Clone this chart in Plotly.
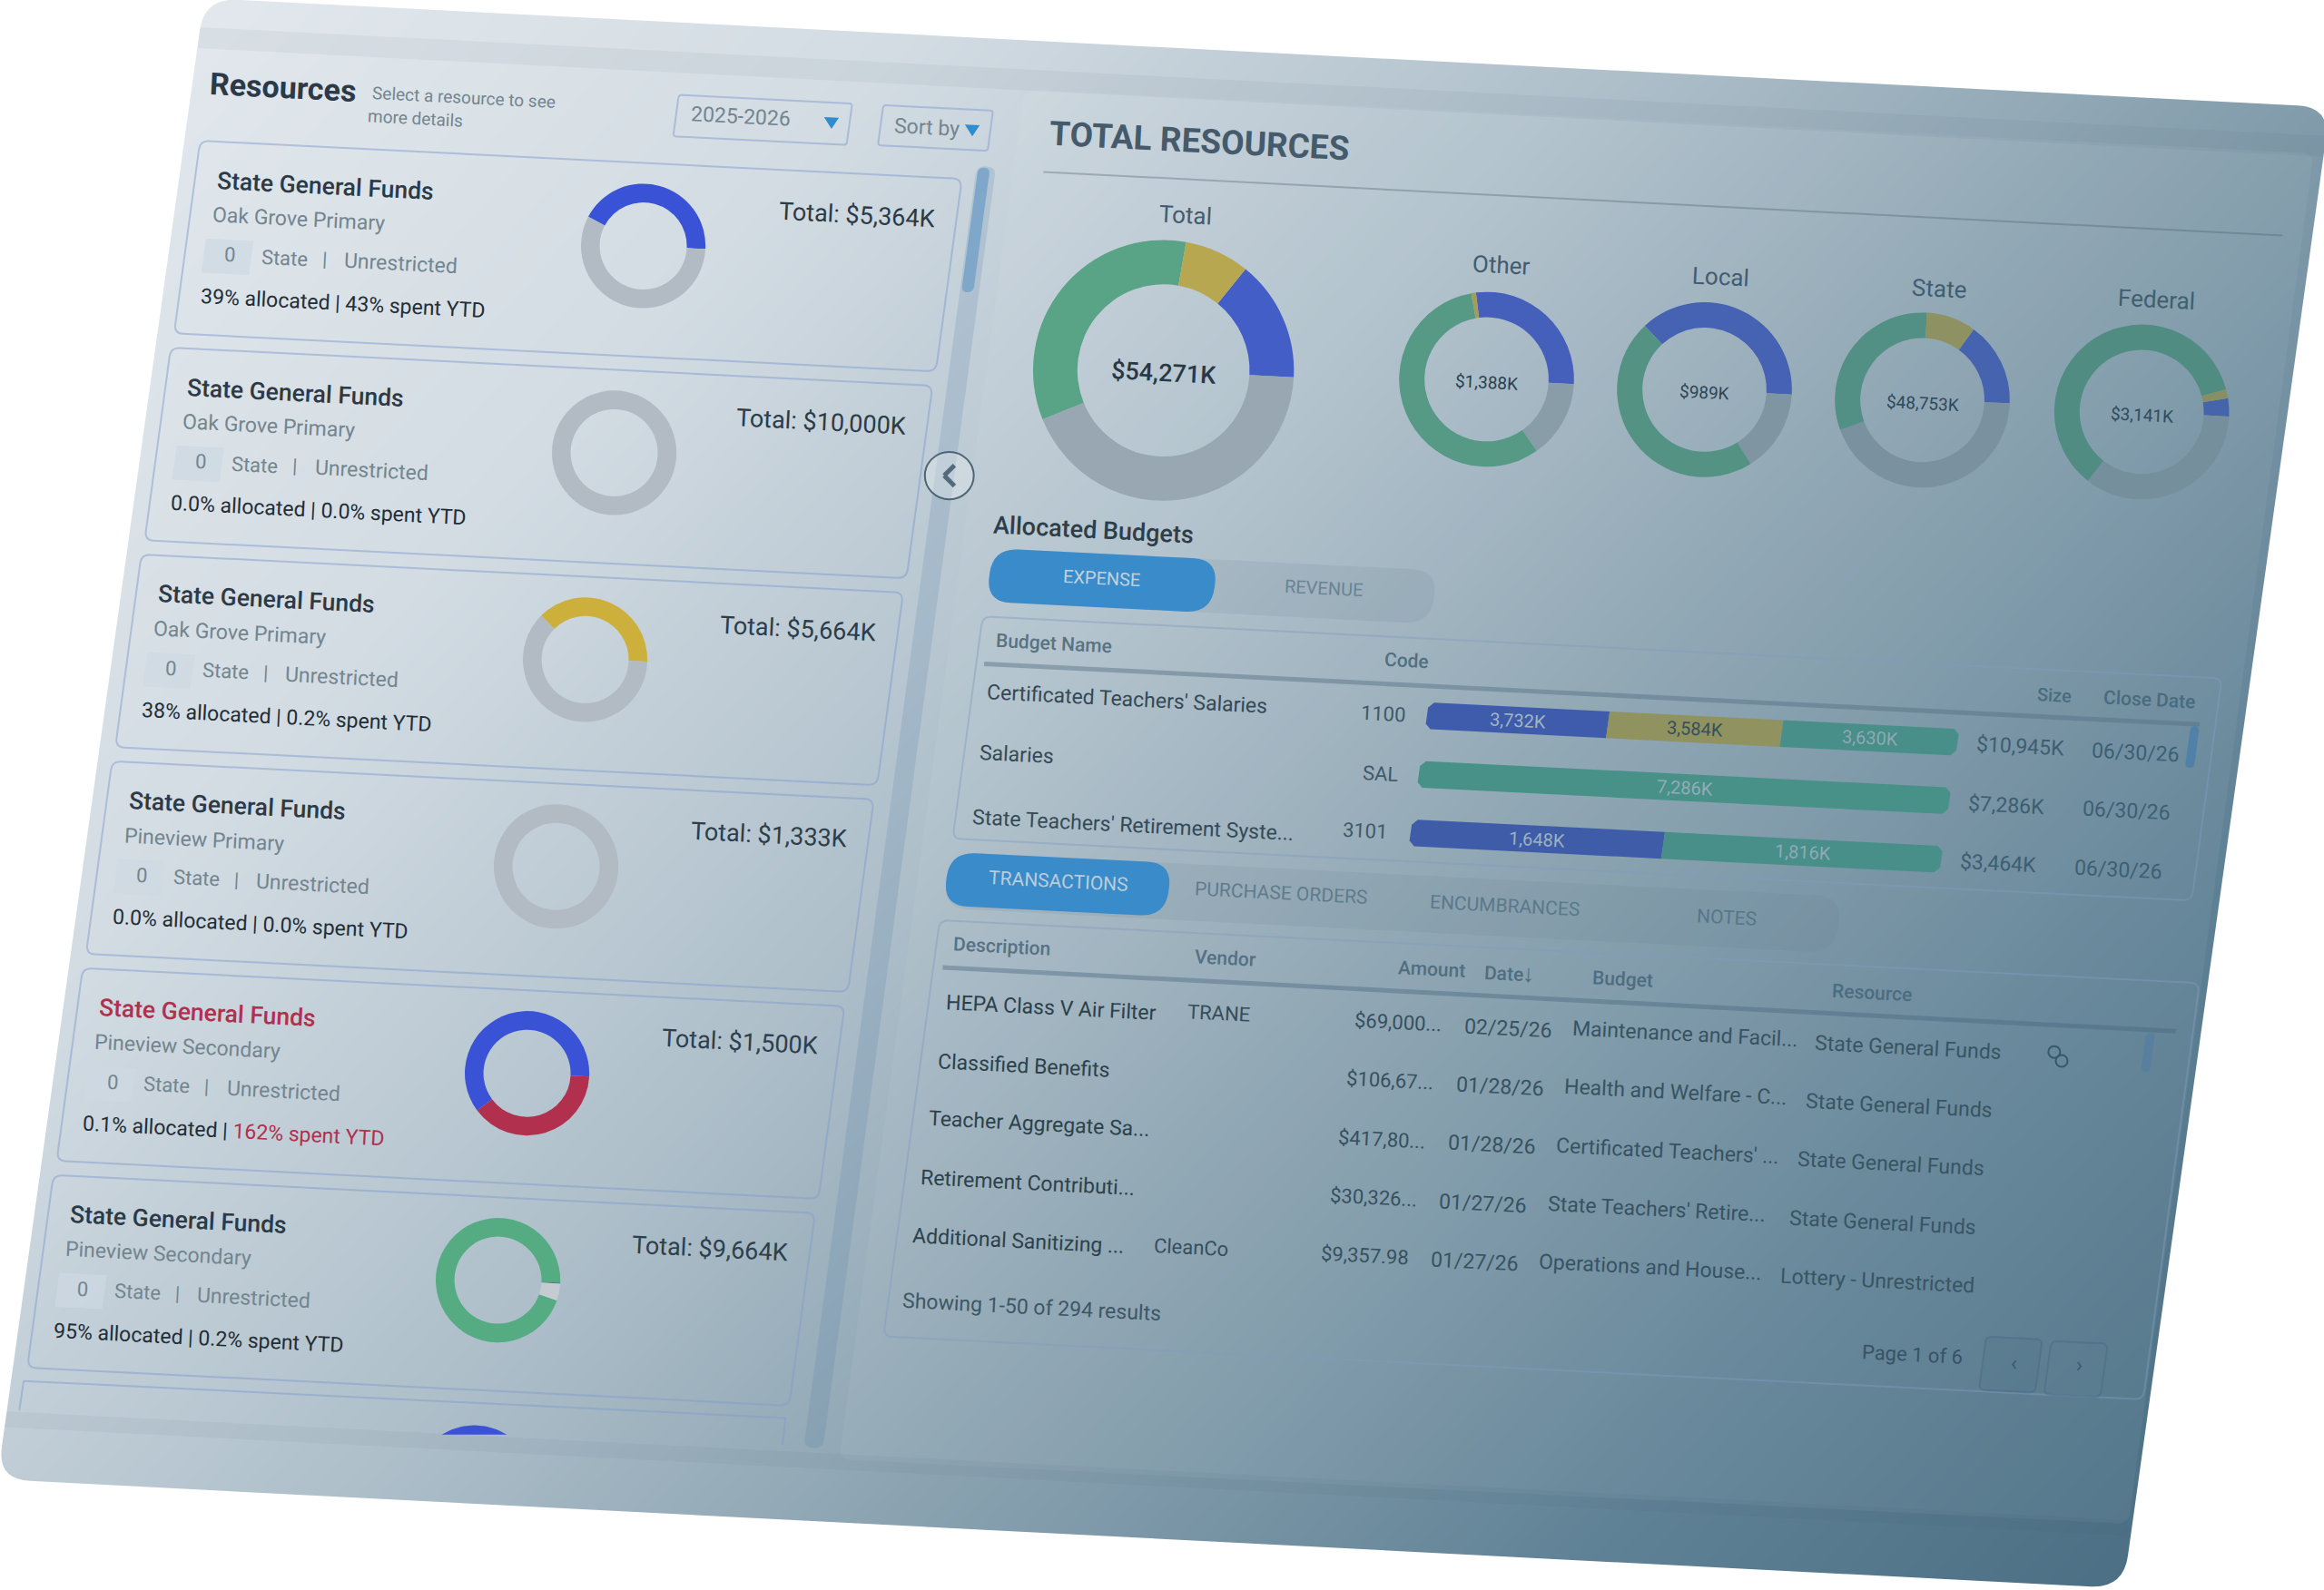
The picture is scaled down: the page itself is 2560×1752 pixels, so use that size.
import numpy as np
import plotly.graph_objects as go

S = 2560 / 1568  # positions below were read on a 1568 wide view of the picture
W, H = 2560, 1752
ANGLE = 2.9

BLUE = "#3a53d6"
GREY = "#b2bbc3"
PALE = "#c4cbd1"
GOLD = "#cdb03c"
RED = "#b0304e"
GREEN = "#55ab82"
DARK = "#2b3a46"
MID = "#73858f"
HEAD = "#5d7585"

# resource cards
card_titles = ["State General Funds"] * 6
card_schools = ["Oak Grove Primary", "Oak Grove Primary", "Oak Grove Primary",
                "Pineview Primary", "Pineview Secondary", "Pineview Secondary"]
card_allocated = ["39%", "0.0%", "38%", "0.0%", "0.1%", "95%"]
card_spent = ["43%", "0.0%", "0.2%", "0.0%", "162%", "0.2%"]
card_totals = ["$5,364K", "$10,000K", "$5,664K", "$1,333K", "$1,500K", "$9,664K"]
card_values = [[43, 57], [100], [38, 62], [100], [39, 61], [95.4, 0.2, 4.4]]
card_colors = [[BLUE, GREY], [GREY], [GOLD, GREY], [GREY], [RED, BLUE], [GREEN, BLUE, PALE]]
card_rotation = [-62, 0, -45, 0, 93, 109]

# total resources donuts
donut_names = ["Total", "Other", "Local", "State", "Federal"]
donut_labels = ["$54,271K", "$1,388K", "$989K", "$48,753K", "$3,141K"]
donut_blue = [8141, 386, 374, 7584, 105]
donut_grey = [23367, 200, 151, 21396, 1091]
donut_green = [18391, 790, 464, 15304, 1893]
donut_gold = [4372, 12, 0, 4469, 52]
donut_rotation = [39, -7, -43, 36, 81]

# allocated budgets
budget_names = ["Certificated Teachers' Salaries", "Salaries", "State Teachers' Retirement Syste..."]
budget_codes = ["1100", "SAL", "3101"]
budget_blue = [3732, 0, 1648]
budget_gold = [3584, 0, 0]
budget_green = [3630, 7286, 1816]
budget_sizes = ["$10,945K", "$7,286K", "$3,464K"]
budget_close = ["06/30/26", "06/30/26", "06/30/26"]

# transactions
tx_desc = ["HEPA Class V Air Filter", "Classified Benefits", "Teacher Aggregate Sa...",
           "Retirement Contributi...", "Additional Sanitizing ..."]
tx_vendor = ["TRANE", "", "", "", "CleanCo"]
tx_amount = ["$69,000...", "$106,67...", "$417,80...", "$30,326...", "$9,357.98"]
tx_date = ["02/25/26", "01/28/26", "01/28/26", "01/27/26", "01/27/26"]
tx_budget = ["Maintenance and Facil...", "Health and Welfare - C...", "Certificated Teachers' ...",
             "State Teachers' Retire...", "Operations and House..."]
tx_resource = ["State General Funds", "State General Funds", "State General Funds",
               "State General Funds", "Lottery - Unrestricted"]

GRAD_T = [0, 0.25, 0.45, 0.6, 0.8, 1]
GRAD_C = ["#e6ebef", "#d3dce3", "#aebfca", "#8ba3b1", "#5f8195", "#44687e"]


def rgb(c):
    return [int(c[i:i + 2], 16) for i in (1, 3, 5)]


def grad_t(x, y):
    return 0.62 * x / 1568 + 0.38 * y / 1073


def mix(a, b, k):
    a, b = rgb(a), rgb(b)
    return "#%02x%02x%02x" % tuple(int(round(a[i] * (1 - k) + b[i] * k)) for i in range(3))


# colours wash out towards the right of the screenshot
def fade(c, x, y):
    t = 0.8 * x / 1568 + 0.2 * y / 1073
    k = np.interp(t, [0.35, 0.45, 0.56, 0.66, 0.79, 0.85, 1], [0, 0.18, 0.32, 0.45, 0.52, 0.75, 0.9])
    return mix(c, "#3c6479", k)


def round_path(pts, r):
    # closed path with rounded corners, pts in real pixels
    pts = [np.array(p, dtype=float) for p in pts]
    n = len(pts)
    out = ""
    for i in range(n):
        p, a, b = pts[i], pts[i - 1], pts[(i + 1) % n]
        s = p + (a - p) / np.linalg.norm(a - p) * r
        e = p + (b - p) / np.linalg.norm(b - p) * r
        out += ("M" if i == 0 else "L") + f"{s[0]:.1f},{s[1]:.1f} "
        out += f"Q{p[0]:.1f},{p[1]:.1f} {e[0]:.1f},{e[1]:.1f} "
    return out + "Z"


def box_pts(x, y, w, h):
    return [(x * S, y * S), ((x + w) * S, (y + 0.05 * w) * S),
            ((x + w - 0.135 * h) * S, (y + 0.05 * w + h) * S), ((x - 0.135 * h) * S, (y + h) * S)]


shapes = []
notes = []


def box(x, y, w, h, r=6, fill="rgba(0,0,0,0)", line=None, lw=2):
    shapes.append(dict(type="path", path=round_path(box_pts(x, y, w, h), r * S), fillcolor=fill,
                       line=dict(color=line if line else "rgba(0,0,0,0)", width=lw if line else 0)))


def seg(x0, y0, x1, y1, color, lw=2):
    shapes.append(dict(type="line", x0=x0 * S, y0=y0 * S, x1=x1 * S, y1=y1 * S, line=dict(color=color, width=lw)))


def txt(x, y, s, size, color, anchor="left", weight=400):
    shift = {"left": -1.5, "right": 1.5, "center": 0}[anchor]
    notes.append(dict(x=(x + shift) * S, y=y * S, xref="x", yref="y", text=s, showarrow=False, textangle=ANGLE,
                      xanchor=anchor, yanchor="middle",
                      font=dict(family="Roboto", size=size, color=fade(color, x, y), weight=weight)))


fig = go.Figure()

# background gradient
gx = np.linspace(0, W, 65)
gy = np.linspace(0, H, 45)
gz = [[grad_t(a / S, b / S) for a in gx] for b in gy]
scale = [[t, c] for t, c in zip(GRAD_T, GRAD_C)]
fig.add_trace(go.Heatmap(x=gx, y=gy, z=gz, zmin=0, zmax=1, colorscale=scale, zsmooth="best",
                         showscale=False, hoverinfo="skip"))


def add_donut(cx, cy, r, vals, cols, rot, hole):
    cols = [fade(c, cx, cy) for c in cols]
    fig.add_trace(go.Pie(values=vals, marker=dict(colors=cols, line=dict(width=0)), hole=hole, sort=False,
                         direction="clockwise", rotation=rot, textinfo="none", hoverinfo="skip",
                         showlegend=False,
                         domain=dict(x=[(cx - r) * S / W, (cx + r) * S / W],
                                     y=[1 - (cy + r) * S / H, 1 - (cy - r) * S / H])))


# panels behind the content
box(691, 60, 870, 925, r=8, fill="rgba(255,255,255,0.05)")
box(659, 112, 13, 865, r=6, fill="rgba(80,120,165,0.18)")
box(660, 113, 8, 84, r=4, fill="#7ea7ca")

# left column header
txt(141, 59, "<b>Resources</b>", 34, DARK)
txt(251, 66, "Select a resource to see", 19, MID)
txt(248, 80, "more details", 19, MID)
box(458, 64, 117, 28, r=2, line="rgba(130,155,205,0.5)")
txt(466, 79, "2025-2026", 23, MID)
box(596, 71, 74, 27, r=2, line="rgba(130,155,205,0.5)")
txt(603, 86, "Sort by", 23, MID)
for tx, ty in [(561, 83), (656, 88)]:
    shapes.append(dict(type="path", fillcolor="#2f8ccf", line=dict(width=0),
                       path=f"M{(tx - 5) * S},{(ty - 4) * S} L{(tx + 5) * S},{(ty - 3.5) * S} L{tx * S},{(ty + 4) * S} Z"))

# resource cards
for i in range(6):
    dx, dy = -19.8 * i, 139.6 * i
    box(135 + dx, 95 + dy, 514, 130, r=6, line="rgba(130,155,205,0.5)")
    title_col = RED if i == 4 else DARK
    txt(146 + dx, 125 + dy, card_titles[i], 26.5, title_col, weight=500)
    txt(143 + dx, 148 + dy, card_schools[i], 23, MID)
    box(139 + dx, 161 + dy, 32, 23, r=1, fill="rgba(205,216,226,0.7)")
    txt(155 + dx, 172 + dy, "0", 22, MID, anchor="center")
    txt(176 + dx, 174 + dy, "State", 22, MID)
    txt(217 + dx, 175 + dy, "|", 22, MID)
    txt(232 + dx, 178 + dy, "Unrestricted", 23, MID)
    spent = f"{card_spent[i]} spent YTD"
    if i == 4:
        spent = f'<span style="color:{RED}">{spent}</span>'
    txt(135 + dx, 205 + dy, f"{card_allocated[i]} allocated | {spent}", 23, "#222d36")
    txt(631 + dx, 145 + dy, f"Total: {card_totals[i]}", 27, DARK, anchor="right")

# card cut off by the footer
seg(16, 932, 13, 952, "rgba(130,155,205,0.5)")
seg(16, 932, 530, 957, "rgba(130,155,205,0.5)")
seg(530, 957, 528, 975, "rgba(130,155,205,0.5)")

for i in range(6):
    add_donut(434 - 19.6 * i, 166 + 139.6 * i, 42, card_values[i], card_colors[i], card_rotation[i], 0.7)

# top of the next donut, the rest is hidden behind the footer
theta = np.linspace(-0.55, 0.55, 30)
cut_x = (320 + 42 * np.sin(theta)) * S
cut_y = np.minimum((1004 - 42 * np.cos(theta)) * S, 968.5 * S)
fig.add_trace(go.Scatter(x=cut_x, y=cut_y, fill="toself", fillcolor=fade(BLUE, 320, 965), mode="lines",
                         line=dict(width=0), hoverinfo="skip", showlegend=False))

# collapse button
shapes.append(dict(type="circle", x0=624 * S, y0=305 * S, x1=657 * S, y1=337 * S,
                   fillcolor="rgba(235,240,244,0.35)", line=dict(color="#4f6474", width=2)))
seg(644, 314, 637, 321, "#54697a", 5)
seg(637, 321, 644, 328, "#54697a", 5)

# total resources
txt(708, 95, "<b>TOTAL RESOURCES</b>", 37, "#465b6a")
seg(704, 116, 1540, 159, "rgba(75,95,110,0.35)", 2)

cx_list = [785, 1003, 1150, 1297, 1445]
cy_list = [250, 256, 263, 270, 278]
r_list = [88, 59, 59, 59, 59]
hole_list = [0.66, 0.71, 0.71, 0.71, 0.71]
name_pos = [(800, 145), (1013, 179), (1161, 187), (1308, 195), (1455, 202)]
for i in range(5):
    vals = [donut_blue[i], donut_grey[i], donut_green[i], donut_gold[i]]
    cols = [BLUE, "#a5b0b9", GREEN, GOLD]
    add_donut(cx_list[i], cy_list[i], r_list[i], vals, cols, donut_rotation[i], hole_list[i])
    txt(name_pos[i][0], name_pos[i][1], donut_names[i], 26, "#44596a", anchor="center")
    txt(cx_list[i], cy_list[i] + 2, donut_labels[i], 27 if i == 0 else 19, "#22303b", anchor="center",
        weight=500 if i == 0 else 400)

# allocated budgets
txt(670, 358, "Allocated Budgets", 27, DARK, weight=500)
box(670, 370, 300, 36, r=17, fill="rgba(100,122,140,0.13)")
box(670, 370, 152, 36, r=17, fill="#3a8bc9")
txt(743, 390, "EXPENSE", 20, "#dce9f3", anchor="center")
txt(893, 397, "REVENUE", 20, "#7a909f", anchor="center")

box(663, 416, 836, 150, r=6, line="rgba(130,155,190,0.45)")
txt(672, 434, "Budget Name", 21, HEAD, weight=500)
txt(934, 446, "Code", 21, HEAD, weight=500)
txt(1386, 469, "Size", 20, HEAD, anchor="center", weight=500)
txt(1419, 472, "Close Date", 21, HEAD, weight=500)
seg(664, 448, 1484, 489, "rgba(85,110,130,0.45)", 5)
box(1478, 490, 6, 28, r=3, fill="rgba(62,120,175,0.6)")

bar_w = (358, 18)
bar_h = (-2.5, 18)


def bar_piece(bx, by, f0, f1, color):
    a = lambda f, g: ((bx + bar_w[0] * f + bar_h[0] * g) * S, (by + bar_w[1] * f + bar_h[1] * g) * S)
    c = 0.01
    pts = []
    pts += [a(f0 + c, 0), a(f0, 0.2), a(f0, 0.8), a(f0 + c, 1)] if f0 == 0 else [a(f0, 0), a(f0, 1)]
    pts += [a(f1 - c, 1), a(f1, 0.8), a(f1, 0.2), a(f1 - c, 0)] if f1 == 1 else [a(f1, 1), a(f1, 0)]
    mx, my = (bx + bar_w[0] * (f0 + f1) / 2), (by + bar_w[1] * (f0 + f1) / 2)
    fig.add_trace(go.Scatter(x=[p[0] for p in pts] + [pts[0][0]], y=[p[1] for p in pts] + [pts[0][1]],
                             fill="toself", fillcolor=fade(color, mx, my), mode="lines", line=dict(width=0),
                             hoverinfo="skip", showlegend=False))
    return mx - 1, my + 9


name_xy = [(666, 472), (661, 509), (656, 557)]
code_xy = [(918, 482), (919, 522), (906, 561)]
for i in range(3):
    bx, by = 964 - 5.5 * i, 474 + 39.5 * i
    txt(name_xy[i][0], name_xy[i][1], budget_names[i], 23, "#33454f")
    txt(code_xy[i][0], code_xy[i][1], budget_codes[i], 22, "#3f5360")
    total = budget_blue[i] + budget_gold[i] + budget_green[i]
    pos = 0
    for v, col, lab in [(budget_blue[i], "#3049c4", "#dfeaf0"), (budget_gold[i], GOLD, "#2f3d44"),
                        (budget_green[i], "#3fae8a", "#dfeaf0")]:
        if v == 0:
            continue
        mx, my = bar_piece(bx, by, pos / total, (pos + v) / total, col)
        txt(mx, my, f"{v:,}K", 20, lab, anchor="center")
        pos += v
    txt(1333 - 5.5 * i, 504 + 39.5 * i, budget_sizes[i], 23, "#3f5868")
    txt(1411 - 5.8 * i, 508 + 39.5 * i, budget_close[i], 23, "#3f5868")

# tabs
box(641, 575, 602, 38, r=18, fill="rgba(100,122,140,0.13)")
box(641, 575, 150, 36, r=17, fill="#3a8bc9")
txt(714, 595, "TRANSACTIONS", 21, "#dce9f3", anchor="center")
txt(864, 603, "PURCHASE ORDERS", 21, "#6f8796", anchor="center")
txt(1015, 611, "ENCUMBRANCES", 21, "#6f8796", anchor="center")
txt(1165, 619, "NOTES", 21, "#6f8796", anchor="center")

# transactions table
box(634, 621, 850, 281, r=6, line="rgba(130,155,190,0.45)")
txt(643, 639, "Description", 21, HEAD, weight=500)
txt(806, 647, "Vendor", 21, HEAD, weight=500)
txt(943, 654, "Amount", 21, HEAD, weight=500)
txt(1001, 657, "Date", 21, HEAD, weight=500)
txt(1027, 657, "<b>↓</b>", 27, HEAD)
txt(1074, 661, "Budget", 21, HEAD, weight=500)
txt(1236, 670, "Resource", 21, HEAD, weight=500)
seg(636, 653, 1468, 696, "rgba(70,100,125,0.4)", 5)
box(1448, 697, 6, 26, r=3, fill="rgba(62,120,175,0.3)")

for i in range(5):
    dx = -5.7 * i
    dy = 39.4 * i
    txt(638 + dx, 680 + dy, tx_desc[i], 23, "#28383f")
    if tx_vendor[i]:
        txt(801 + dx, 684 + dy, tx_vendor[i], 22, "#33454f")
    txt(914 + dx, 690 + dy, tx_amount[i], 22, "#33454f")
    txt(988 + dx, 694 + dy, tx_date[i], 23, "#33454f")
    txt(1061 + dx, 698 + dy, tx_budget[i], 23, "#33454f")
    txt(1224 + dx, 707 + dy, tx_resource[i], 23, "#33454f")

for lx, ly in [(1386, 710), (1391, 716)]:
    shapes.append(dict(type="circle", x0=(lx - 4) * S, y0=(ly - 4) * S, x1=(lx + 4) * S, y1=(ly + 4) * S,
                       line=dict(color=fade("#2b3a46", 1388, 713), width=2)))

txt(609, 882, "Showing 1-50 of 294 results", 23, "#3f5360")
txt(1256, 914, "Page 1 of 6", 22, "#2b3a46")
box(1340, 902, 38, 36, r=4, line="rgba(70,105,130,0.45)", fill="rgba(60,95,120,0.1)")
box(1384, 905, 38, 36, r=4, line="rgba(70,105,130,0.45)")
txt(1359, 920, "‹", 24, "#2b3a46", anchor="center")
txt(1403, 921, "›", 24, "#2b3a46", anchor="center")

# top and bottom bands
TL, TR, BL, BR = (225, -2), (2567, 118), (-3, 1630), (2339, 1750)
shapes.append(dict(type="path", fillcolor="rgba(60,85,105,0.06)", line=dict(width=0),
                   path=f"M{TL[0] - 5},{TL[1] + 32} L{TR[0]},{TR[1] + 32} L{TR[0]},{TR[1] + 55} L{TL[0] - 7},{TL[1] + 55} Z"))
shapes.append(dict(type="path", fillcolor="rgba(60,85,105,0.05)", line=dict(width=0),
                   path=f"M{BL[0] + 5},{BL[1] - 75} L{BR[0] + 5},{BR[1] - 75} L{BR[0] + 5},{BR[1] - 58} L{BL[0]},{BL[1] - 58} Z"))

# white outside of the tilted screenshot
outer = f"M-10,-10 L{W + 10},-10 L{W + 10},{H + 10} L-10,{H + 10} Z "
shapes.append(dict(type="path", path=outer + round_path([TL, TR, BR, BL], 36), fillcolor="white", line=dict(width=0)))

fig.update_layout(
    width=W, height=H, margin=dict(l=0, r=0, t=0, b=0), paper_bgcolor="white", plot_bgcolor="white",
    xaxis=dict(range=[0, W], visible=False, fixedrange=True),
    yaxis=dict(range=[H, 0], visible=False, fixedrange=True),
    shapes=shapes, annotations=notes, showlegend=False,
)

fig.write_html("out.html", config={"displayModeBar": False}, post_script="document.body.style.margin='0';")
